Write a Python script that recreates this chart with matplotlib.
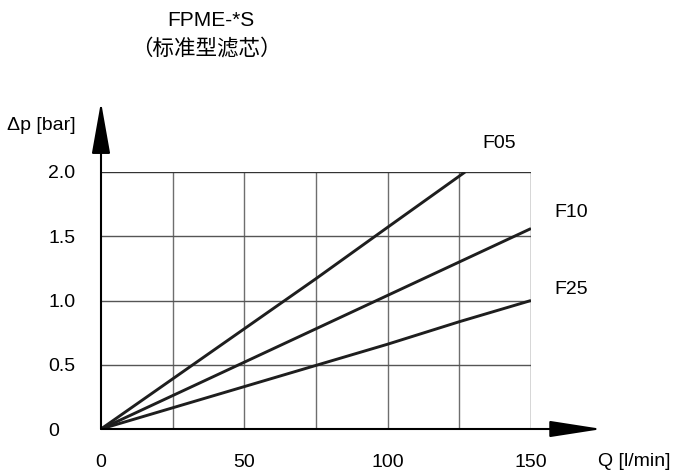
import matplotlib
matplotlib.use("Agg")
import matplotlib.pyplot as plt

plt.rcParams['font.family'] = ['Liberation Sans', 'Noto Sans CJK SC', 'DejaVu Sans']

# ---- data ----
title_line1 = "FPME-*S"
title_line2 = "（标准型滤芯）"
x_label = "Q [l/min]"
y_label = "Δp [bar]"

x_ticks = [0, 50, 100, 150]
x_tick_labels = ["0", "50", "100", "150"]
y_ticks = [0, 0.5, 1.0, 1.5, 2.0]
y_tick_labels = ["0", "0.5", "1.0", "1.5", "2.0"]
x_grid = [25, 50, 75, 100, 125]
y_grid = [0.5, 1.0, 1.5]

f05_q = [0, 25, 50, 75, 100, 127]
f05_dp = [0, 0.39, 0.78, 1.17, 1.57, 2.0]
f10_q = [0, 25, 50, 75, 100, 125, 150]
f10_dp = [0, 0.26, 0.52, 0.78, 1.04, 1.30, 1.56]
f25_q = [0, 25, 50, 75, 100, 125, 150]
f25_dp = [0, 0.165, 0.33, 0.495, 0.66, 0.835, 1.0]

series_names = ["F05", "F10", "F25"]
label_pos = [(138.8, 2.222), (164.1, 1.685), (164.1, 1.082)]

# ---- figure ----
W, H = 673, 472
fig = plt.figure(figsize=(W / 100, H / 100), dpi=100)
ax = fig.add_axes([101 / W, 43 / H, 430 / W, 257 / H])
ax.set_xlim(0, 150)
ax.set_ylim(0, 2.0)
for s in ax.spines.values():
    s.set_visible(False)
ax.patch.set_visible(False)

# grid
ax.vlines(x_grid, 0, 2.0, colors='#6e6e6e', lw=1.0, zorder=1)
ax.hlines(y_grid, 0, 150, colors='#555555', lw=1.0, zorder=1)
ax.vlines([150], 0, 2.0, colors='#333333', lw=1.0, zorder=1)
ax.hlines([2.0], 0, 150, colors='#333333', lw=1.0, zorder=1)

# curves
for q, dp in [(f05_q, f05_dp), (f10_q, f10_dp), (f25_q, f25_dp)]:
    ax.plot(q, dp, color='#1e1e1e', lw=2.1, solid_capstyle='butt', zorder=3)

for name, (lx, ly) in zip(series_names, label_pos):
    ax.text(lx, ly, name, fontsize=14, ha='center', va='center', clip_on=False)

# axes with arrows
ax.annotate('', xy=(174.8, 0), xytext=(0, 0), xycoords='data',
            arrowprops=dict(arrowstyle='-|>,head_length=2.7,head_width=0.42',
                            mutation_scale=12, lw=1.5, color='black',
                            shrinkA=0, shrinkB=0), annotation_clip=False, zorder=4)
ax.annotate('', xy=(0, 2.545), xytext=(0, 0), xycoords='data',
            arrowprops=dict(arrowstyle='-|>,head_length=2.7,head_width=0.48',
                            mutation_scale=12, lw=1.5, color='black',
                            shrinkA=0, shrinkB=0), annotation_clip=False, zorder=4)

# ticks
ax.set_xticks(x_ticks)
ax.set_xticklabels(x_tick_labels, fontsize=14)
ax.set_yticks(y_ticks)
ax.set_yticklabels(y_tick_labels, fontsize=14, ha='left')
ax.tick_params(axis='x', length=0, pad=18)
ax.tick_params(axis='y', length=0, pad=38)

# axis labels
fig.text(598 / W, 1 - 461.7 / H, x_label, fontsize=14, ha='left', va='center')
fig.text(7 / W, 1 - 126 / H, y_label, fontsize=14, ha='left', va='center')

# titles
fig.text(211 / W, 1 - 21 / H, title_line1, fontsize=15, ha='center', va='center')
fig.text(206 / W, 1 - 49 / H, title_line2, fontsize=15.5, ha='center', va='center')

fig.savefig('out.png', dpi=100)
